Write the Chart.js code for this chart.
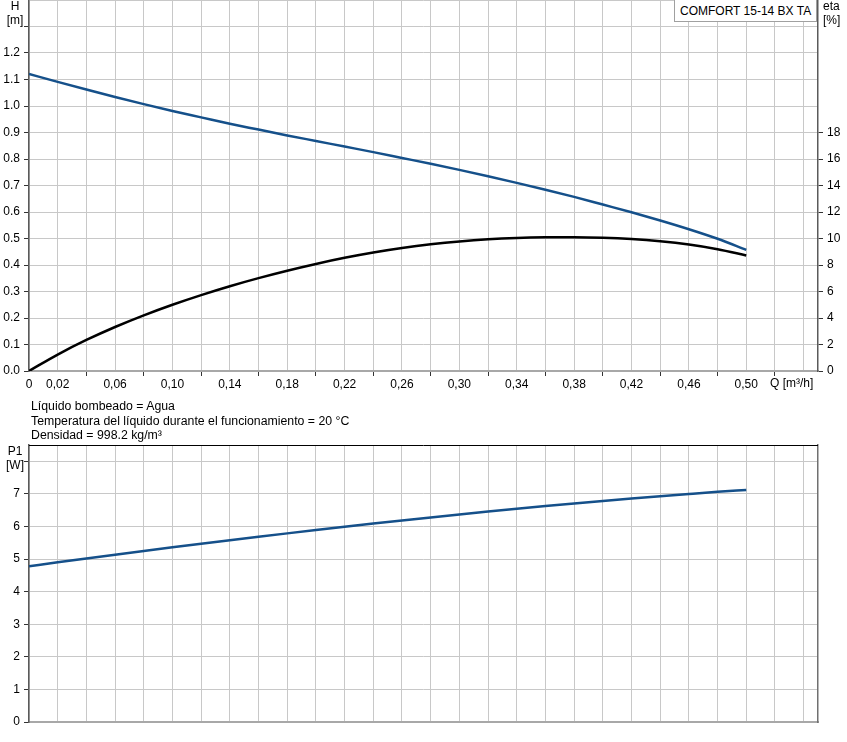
<!DOCTYPE html>
<html>
<head>
<meta charset="utf-8">
<script src="https://cdn.jsdelivr.net/npm/chart.js@4.4.1/dist/chart.umd.min.js"></script>
<style>
    html, body { margin: 0; padding: 0; background: #ffffff; }
    body {
        width: 847px; height: 742px; position: relative; overflow: hidden;
        font-family: "Liberation Sans", Arial, sans-serif; font-size: 12px; color: #000000;
    }
    #topWrap { position: absolute; left: 0; top: -20px; width: 847px; height: 420px; }
    #bottomWrap { position: absolute; left: 0; top: 425px; width: 847px; height: 317px; }
    .lbl { position: absolute; line-height: 14px; white-space: nowrap; }
    .unit { text-align: center; width: 30px; }
    #legendBox {
        position: absolute; left: 674px; top: -1px; width: 143px; height: 23px;
        border: 1px solid #a0a0a0; background: #ffffff; box-sizing: border-box;
        padding-left: 5px; line-height: 22px;
    }
    #info { position: absolute; left: 31px; top: 399px; line-height: 14.5px; font-size: 12.3px; }
</style>
</head>
<body>
<div id="topWrap"><canvas id="curveChart" width="847" height="420"></canvas></div>
<div id="bottomWrap"><canvas id="powerChart" width="847" height="317"></canvas></div>

<div class="lbl unit" style="left:0px; top:-1px;">H<br>[m]</div>
<div class="lbl" style="left:823px; top:-1px;">eta<br>[%]</div>
<div class="lbl unit" style="left:0px; top:444px;">P1<br>[W]</div>
<div class="lbl" style="left:770px; top:376px;">Q [m³/h]</div>
<div id="legendBox">COMFORT 15-14 BX TA</div>
<div id="info">
    Líquido bombeado = Agua<br>
    Temperatura del líquido durante el funcionamiento = 20 °C<br>
    Densidad = 998.2 kg/m³
</div>

<script>
// Q [m3/h]
const flowValues = [0, 0.02, 0.04, 0.06, 0.08, 0.10, 0.12, 0.14, 0.16, 0.18, 0.20, 0.22, 0.24,
    0.26, 0.28, 0.30, 0.32, 0.34, 0.36, 0.38, 0.40, 0.42, 0.44, 0.46, 0.48, 0.50];
// H [m]
const headValues = [1.121, 1.091, 1.062, 1.034, 1.007, 0.981, 0.957, 0.933, 0.911, 0.889, 0.868,
    0.847, 0.826, 0.804, 0.782, 0.759, 0.735, 0.710, 0.684, 0.657, 0.628, 0.599, 0.568, 0.535, 0.499, 0.457];
// eta [%]
const etaValues = [0, 1.24, 2.34, 3.32, 4.20, 5.00, 5.73, 6.40, 7.01, 7.57, 8.08,
    8.54, 8.94, 9.28, 9.56, 9.78, 9.94, 10.04, 10.09, 10.10, 10.06, 9.96, 9.79, 9.54, 9.19, 8.72];
// P1 [W]
const powerValues = [4.78, 4.90, 5.018, 5.134, 5.248, 5.36, 5.47, 5.578, 5.684, 5.788, 5.89,
    5.99, 6.088, 6.184, 6.278, 6.37, 6.459, 6.545, 6.628, 6.708, 6.785, 6.859, 6.93, 6.998, 7.063, 7.12];
// labelled ticks on the Q axis
const flowTickLabels = ["0", "0,02", "0,06", "0,10", "0,14", "0,18", "0,22", "0,26",
    "0,30", "0,34", "0,38", "0,42", "0,46", "0,50"];

document.addEventListener("DOMContentLoaded", function () {
    const blue = "#15508a";
    const black = "#000000";
    const gridColor = "#c8c8c8";
    const tickMark = "#333333";
    const tickFont = { family: "'Liberation Sans', Arial, sans-serif", size: 12 };

    const toPoints = (ys) => flowValues.map((q, i) => ({ x: q, y: ys[i] }));

    function flowLabel(v) {
        const i = Math.round(v / 0.02);
        if (i === 0) return flowTickLabels[0];
        if (i % 2 === 1 && i <= 25) return flowTickLabels[(i + 1) / 2];
        return "";
    }

    const topBorder = {
        id: "topBorder",
        afterDraw(chart) {
            const { ctx, chartArea } = chart;
            ctx.save();
            ctx.strokeStyle = "#000000";
            ctx.lineWidth = 1;
            ctx.beginPath();
            ctx.moveTo(chartArea.left, chartArea.top + 0.5);
            ctx.lineTo(chartArea.right, chartArea.top + 0.5);
            ctx.stroke();
            ctx.restore();
        },
    };

    const lineStyle = {
        pointRadius: 0,
        borderWidth: 2.5,
        showLine: true,
        fill: false,
        cubicInterpolationMode: "monotone",
    };

    const curveCanvas = document.getElementById("curveChart");
    new Chart(curveCanvas.getContext("2d"), {
        type: "scatter",
        data: {
            datasets: [
                Object.assign({ label: "H", data: toPoints(headValues), borderColor: blue, yAxisID: "y" }, lineStyle),
                Object.assign({ label: "eta", data: toPoints(etaValues), borderColor: black, yAxisID: "y2" }, lineStyle),
            ],
        },
        options: {
            responsive: false,
            animation: false,
            layout: { padding: { top: 20, left: 0, right: 0, bottom: 0 } },
            plugins: { legend: { display: false }, tooltip: { enabled: false } },
            scales: {
                x: {
                    type: "linear",
                    min: 0,
                    max: 0.55,
                    afterFit: (scale) => { scale.height = 29; },
                    ticks: {
                        stepSize: 0.02,
                        includeBounds: false,
                        autoSkip: false,
                        maxRotation: 0,
                        padding: 1,
                        color: "#000000",
                        font: tickFont,
                        callback: flowLabel,
                    },
                    grid: {
                        color: gridColor,
                        lineWidth: 1,
                        tickLength: 5,
                        tickColor: (ctx) => {
                            const i = Math.round(ctx.tick.value / 0.02);
                            return i > 0 && i % 2 === 0 ? tickMark : "rgba(0,0,0,0)";
                        },
                    },
                    border: { color: "#a8a8a8", width: 2 },
                },
                y: {
                    position: "left",
                    min: 0,
                    max: 1.4,
                    afterFit: (scale) => { scale.width = 29; },
                    ticks: {
                        stepSize: 0.1,
                        padding: 4,
                        color: "#000000",
                        font: tickFont,
                        callback: (v) => (v <= 1.2001 ? v.toFixed(1) : ""),
                    },
                    grid: {
                        color: gridColor,
                        lineWidth: 1,
                        tickLength: 5,
                        tickColor: (ctx) => (ctx.tick.value <= 1.3001 ? tickMark : "rgba(0,0,0,0)"),
                    },
                    border: { color: "#5a5a5a", width: 1.5 },
                },
                y2: {
                    position: "right",
                    min: 0,
                    max: 28,
                    afterFit: (scale) => { scale.width = 29; },
                    ticks: {
                        stepSize: 2,
                        padding: 4,
                        color: "#000000",
                        font: tickFont,
                        callback: (v) => (v <= 18 ? String(v) : ""),
                    },
                    grid: {
                        drawOnChartArea: false,
                        tickLength: 5,
                        tickColor: (ctx) => (ctx.tick.value <= 18 ? tickMark : "rgba(0,0,0,0)"),
                    },
                    border: { color: "#5a5a5a", width: 1.5 },
                },
            },
        },
    });

    const powerCanvas = document.getElementById("powerChart");
    new Chart(powerCanvas.getContext("2d"), {
        type: "scatter",
        data: {
            datasets: [
                Object.assign({ label: "P1", data: toPoints(powerValues), borderColor: blue, yAxisID: "y" }, lineStyle),
            ],
        },
        options: {
            responsive: false,
            animation: false,
            layout: { padding: { top: 20, left: 0, right: 0, bottom: 0 } },
            plugins: { legend: { display: false }, tooltip: { enabled: false } },
            scales: {
                x: {
                    type: "linear",
                    min: 0,
                    max: 0.55,
                    afterFit: (scale) => { scale.height = 20; },
                    ticks: { stepSize: 0.02, includeBounds: false, autoSkip: false, display: false },
                    grid: { color: gridColor, lineWidth: 1, drawTicks: false },
                    border: { color: "#a8a8a8", width: 2 },
                },
                y: {
                    position: "left",
                    min: 0,
                    max: 8.5,
                    afterFit: (scale) => { scale.width = 29; },
                    ticks: {
                        stepSize: 1,
                        includeBounds: false,
                        padding: 4,
                        color: "#000000",
                        font: tickFont,
                        callback: (v) => (v <= 7 ? String(v) : ""),
                    },
                    grid: {
                        color: gridColor,
                        lineWidth: 1,
                        tickLength: 5,
                        tickColor: tickMark,
                    },
                    border: { color: "#5a5a5a", width: 1.5 },
                },
                y2: {
                    position: "right",
                    min: 0,
                    max: 1,
                    afterFit: (scale) => { scale.width = 29; },
                    ticks: { display: false },
                    grid: { drawOnChartArea: false, drawTicks: false },
                    border: { color: "#707070", width: 1.5 },
                },
            },
        },
        plugins: [topBorder],
    });
});
</script>
</body>
</html>
